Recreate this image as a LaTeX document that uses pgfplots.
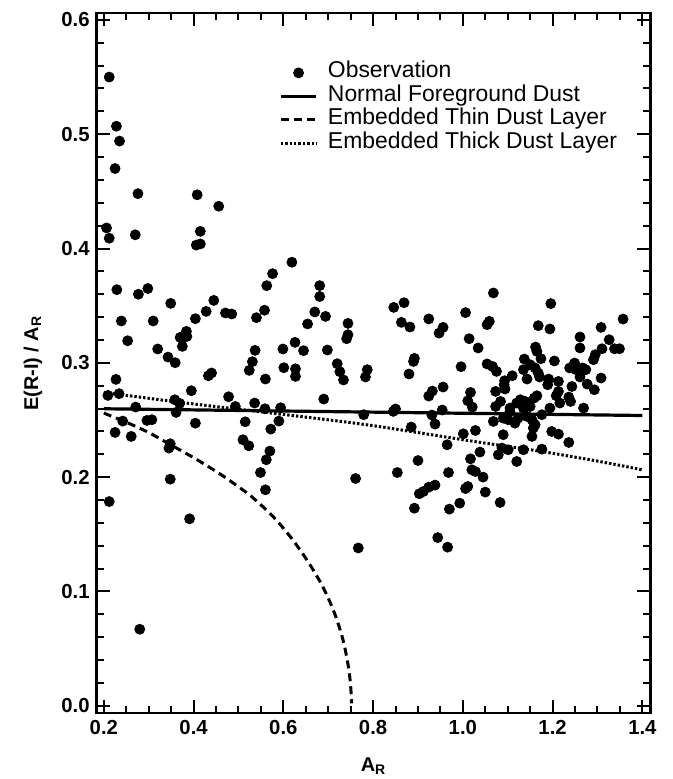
\documentclass[border=0pt]{standalone}
\usepackage{fontspec}
\setmainfont{Liberation Sans}
\usepackage{pgfplots}
\pgfplotsset{compat=1.18}
\pgfplotsset{
  lineleg/.style={legend image code/.code={\draw[##1] (0bp,0bp) -- (17.8bp,0bp); \path (22.8bp,0bp);}},
  markleg/.style={legend image code/.code={\draw[mark repeat=2,mark phase=2,##1] plot coordinates {(0bp,0bp)(8.9bp,0bp)(17.8bp,0bp)}; \path (22.8bp,0bp);}},
}
\begin{document}
\begin{tikzpicture}
\useasboundingbox (-48.35bp,-33bp) rectangle (288.15bp,356.65bp);
\begin{axis}[
  at={(0,0)}, anchor=south west,
  scale only axis, width=277bp, height=350bp,
  xmin=0.184, xmax=1.418, ymin=-0.0064, ymax=0.6058,
  xtick={0.2,0.4,...,1.4}, ytick={0,0.1,...,0.6},
  minor x tick num=3, minor y tick num=4,
  tick align=inside,
  major tick length=6.5bp, minor tick length=3.5bp,
  tick style={line width=1bp, black},
  axis line style={line width=1.2bp},
  /pgf/number format/assume math mode=true,
  /pgf/number format/.cd, fixed, fixed zerofill, precision=1, /pgfplots/.cd,
  tick label style={font=\bfseries\fontsize{10.2}{12}\selectfont},
  xlabel={\bfseries A\textsubscript{R}},
  ylabel={\bfseries E(R-I) / A\textsubscript{R}},
  label style={font=\bfseries\fontsize{12.5}{14}\selectfont},
  every axis x label/.style={at={(axis description cs:0.5,-0.0839)}, anchor=base},
  every axis y label/.style={at={(axis description cs:-0.115,0.5)}, rotate=90, anchor=center},
  legend style={at={(axis description cs:0.3296,0.9316)}, anchor=north west,
    draw=none, fill=none, inner sep=0pt, outer sep=0pt, row sep=0pt, column sep=0pt,
    font=\fontsize{11.5}{11.5}\selectfont,
    nodes={inner sep=0pt, text height=8.4bp, text depth=3.35bp}},
  legend cell align=left,
]
\addplot[only marks, mark=*, mark size=2.5bp, black, markleg]
coordinates {
(0.212,0.550)(0.228,0.507)(0.235,0.494)(0.225,0.470)(0.276,0.448)(0.206,0.418)(0.212,0.409)(0.270,0.412)
(0.408,0.447)(0.456,0.437)(0.415,0.415)(0.406,0.403)(0.415,0.404)(0.576,0.378)(0.619,0.388)
(0.563,0.3675)(0.229,0.364)(0.277,0.360)(0.298,0.365)(0.349,0.352)(0.445,0.3546)(0.428,0.345)(0.471,0.3436)
(0.485,0.3427)(0.558,0.346)(0.540,0.3395)(0.404,0.3386)(0.239,0.3366)(0.310,0.3366)(0.654,0.334)(0.384,0.3275)
(0.375,0.3222)(0.385,0.3231)(0.370,0.3222)(0.253,0.3193)(0.375,0.3144)(0.626,0.3179)(0.320,0.3121)(0.537,0.3109)
(0.599,0.3121)(0.645,0.3106)(0.343,0.305)(0.359,0.3001)(0.531,0.301)(0.524,0.2934)(0.601,0.2957)(0.627,0.2948)
(0.627,0.2881)(0.433,0.2887)(0.440,0.2911)(0.560,0.2858)(0.227,0.2855)(0.395,0.2756)(0.209,0.2715)(0.234,0.273)
(0.478,0.2703)(0.358,0.2677)(0.369,0.2645)(0.536,0.2648)(0.493,0.2618)(0.271,0.2613)(0.559,0.2598)(0.594,0.2607)
(0.361,0.2566)(0.242,0.249)(0.296,0.2496)(0.307,0.2502)(0.404,0.2472)(0.515,0.2484)(0.590,0.249)(0.225,0.2391)
(0.261,0.2356)(0.572,0.242)(0.348,0.2292)(0.345,0.2254)(0.510,0.2327)(0.523,0.2274)(0.570,0.2228)(0.562,0.2152)
(0.549,0.204)(0.348,0.1982)(0.560,0.1889)(0.212,0.1786)
(0.391,0.1635)(0.761,0.1988)(0.767,0.138)(0.280,0.0669)
(0.892,0.1728)(0.903,0.1854)(0.912,0.1874)(0.924,0.1912)(0.938,0.193)(0.970,0.172)(0.993,0.1772)(0.944,0.1471)
(0.966,0.1387)(1.006,0.190)(1.011,0.1918)(1.050,0.1869)(1.083,0.1778)(1.045,0.200)
(0.681,0.3675)(0.681,0.358)(0.670,0.3445)(0.694,0.3406)(0.744,0.3345)(0.846,0.3485)(0.869,0.3526)(0.863,0.3354)
(0.882,0.3313)(0.924,0.3384)(0.956,0.331)(1.006,0.3439)
(0.947,0.326)(0.744,0.3246)(0.741,0.3211)(1.014,0.3211)(1.034,0.313)(0.698,0.3112)(0.720,0.2992)(0.726,0.2922)
(0.734,0.285)(0.787,0.294)(0.783,0.2876)(0.892,0.3039)(0.890,0.3012)(0.880,0.2902)(0.996,0.2966)(0.956,0.2788)
(0.932,0.2753)(0.924,0.2709)(1.017,0.2741)(1.011,0.2668)(1.021,0.2613)(0.690,0.2683)(0.850,0.2596)(0.845,0.2575)
(0.779,0.2546)(0.954,0.2587)(0.931,0.2543)(0.938,0.2464)(0.885,0.2438)(1.001,0.2379)(1.028,0.2408)(0.965,0.2283)
(0.900,0.2145)(1.017,0.216)(1.038,0.2219)(1.020,0.2064)(1.028,0.2049)(0.854,0.204)(0.968,0.204)
(1.068,0.3611)(1.196,0.3518)(1.059,0.3363)(1.054,0.3334)(1.168,0.3325)(1.194,0.3296)(1.357,0.3383)(1.308,0.331)
(1.261,0.3226)(1.326,0.3202)(1.261,0.313)(1.310,0.3123)(1.338,0.3123)(1.349,0.3123)(1.162,0.3138)(1.165,0.310)
(1.295,0.3071)(1.291,0.3027)(1.137,0.3033)(1.174,0.3036)(1.204,0.3016)(1.054,0.299)(1.066,0.2968)(1.075,0.2925)
(1.135,0.294)(1.150,0.2983)(1.161,0.2955)(1.168,0.2911)(1.249,0.2998)(1.238,0.2955)(1.252,0.294)(1.267,0.2955)
(1.274,0.294)(1.110,0.2887)(1.093,0.2843)(1.092,0.2808)(1.094,0.2771)(1.143,0.2858)(1.171,0.2876)(1.191,0.2858)
(1.189,0.2808)(1.213,0.2837)(1.263,0.2925)(1.261,0.2876)(1.243,0.2793)(1.277,0.2814)(1.308,0.2867)(1.293,0.2764)
(1.073,0.275)(1.165,0.2712)(1.159,0.2692)(1.213,0.275)(1.208,0.2712)(1.236,0.270)(1.269,0.2604)(1.240,0.2662)
(1.128,0.2677)(1.120,0.2648)(1.084,0.2662)(1.073,0.2618)(1.105,0.2604)(1.194,0.2604)(1.216,0.2648)
(1.139,0.2662)(1.135,0.2604)(1.150,0.2618)(1.105,0.2574)(1.068,0.2487)(1.090,0.2516)(1.101,0.2502)(1.116,0.2472)
(1.123,0.2516)(1.143,0.2531)(1.154,0.2502)(1.161,0.2458)(1.176,0.2546)(1.157,0.2429)(1.154,0.2356)(1.090,0.2371)
(1.198,0.2399)(1.213,0.2376)(1.236,0.2303)(1.079,0.2195)(1.087,0.2254)(1.101,0.2239)(1.135,0.2239)(1.176,0.2245)
(1.120,0.2137)
};
\addlegendentry{Observation}
\addplot[black, line width=1.6bp, lineleg] coordinates {(0.2,0.2598)(1.4,0.2539)};
\addlegendentry{Normal Foreground Dust}
\addplot[black, line width=1.5bp, dash pattern=on 4bp off 2.5bp, smooth, tension=0.5, lineleg] coordinates {
(0.20,0.256)(0.25,0.248)(0.30,0.239)(0.35,0.228)(0.40,0.217)(0.45,0.205)(0.484,0.196)(0.529,0.183)
(0.577,0.1655)(0.618,0.1466)(0.655,0.126)(0.688,0.104)(0.714,0.081)(0.733,0.0575)(0.745,0.034)(0.750,0.017)(0.752,0.002)};
\addlegendentry{Embedded Thin Dust Layer}
\addplot[black, line width=1.5bp, dash pattern=on 1.2bp off 1bp, smooth, tension=0.5, lineleg] coordinates {
(0.20,0.274)(0.25,0.2715)(0.40,0.264)(0.637,0.2531)(0.80,0.245)(1.02,0.2315)(1.176,0.2224)(1.30,0.2140)(1.40,0.2064)};
\addlegendentry{Embedded Thick Dust Layer}
\end{axis}
\end{tikzpicture}
\end{document}
